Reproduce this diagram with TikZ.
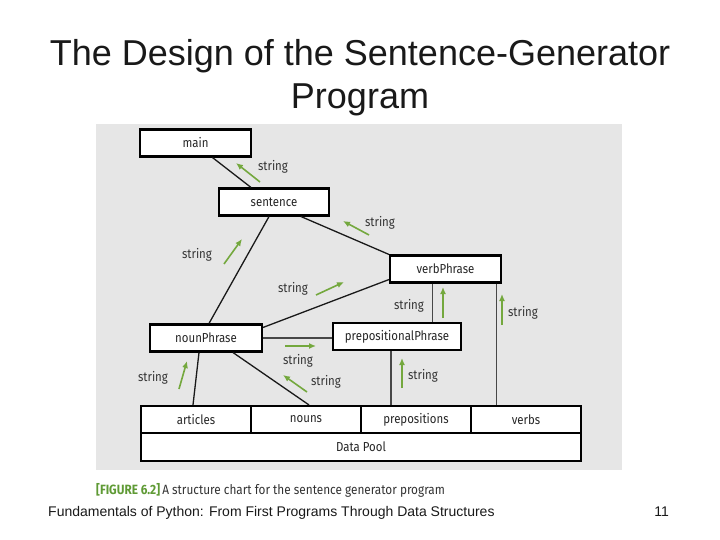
\documentclass[tikz,border=0pt]{standalone}
\usepackage{fontspec}
\setmainfont{Liberation Sans}
\newfontfamily\chartfont[FakeStretch=0.88]{Fira Sans}
\usetikzlibrary{positioning,arrows.meta}

\definecolor{figgray}{HTML}{E6E6E6}
\definecolor{flowgreen}{HTML}{74A83E}
\definecolor{capgreen}{HTML}{5F9A35}

\tikzset{
  module/.style={draw, line width=2.1pt, fill=white, minimum height=27pt, inner sep=0pt,
    font=\chartfont\fontsize{13}{15}\selectfont, text=black!85},
  link/.style={line width=1.3pt, black!90},
  straightlink/.style={line width=1.1pt, black!72},
  flow/.style={flowgreen, line width=1.6pt, -{Latex[length=7pt,width=6pt]}},
  lbl/.style={font=\chartfont\fontsize{13}{15}\selectfont, text=black!80},
}

\begin{document}
\begin{tikzpicture}[x=1pt, y=-1pt]

    \useasboundingbox (0,0) rectangle (720,540);

    % Title
    \node[anchor=base, font=\fontsize{36}{40}\selectfont, text=black!90] (title1) at (360,66) {The Design of the Sentence-Generator};
    \node[anchor=base, font=\fontsize{36}{40}\selectfont, text=black!90] (title2) at (360,109) {Program};

    % Figure background
    \fill[figgray] (96,124) rectangle (622,470);

    % Modules
    \node[module, minimum width=111pt] (main) at (195.5,143) {main};
    \node[module, minimum width=110pt] (sentence) at (274,202) {sentence};
    \node[module, minimum width=111pt] (verbPhrase) at (445.5,269) {verbPhrase};
    \node[module, minimum width=112pt] (nounPhrase) at (206,338) {nounPhrase};
    \node[module, minimum width=128pt] (prepositionalPhrase) at (397,336.5) {prepositionalPhrase};

    % Data pool
    \node[module, minimum width=110pt] (articles) at (196,419.5) {articles};
    \node[module, minimum width=110pt] (nouns) at (306,419.5) {nouns};
    \node[module, minimum width=110pt] (prepositions) at (416,419.5) {prepositions};
    \node[module, minimum width=110pt] (verbs) at (526,419.5) {verbs};
    \node[module, minimum width=440pt, minimum height=28pt] (pool) at (361,447) {Data Pool};

    % Links between modules
    \draw[link] ([xshift=17pt]main.south) -- ([xshift=-23pt]sentence.north);
    \draw[link] ([xshift=27pt]sentence.south) -- (verbPhrase.north west);
    \draw[link] ([xshift=-5pt]sentence.south) -- ([xshift=3pt]nounPhrase.north);
    \draw[link] ([yshift=-4pt]nounPhrase.north east) -- ([yshift=4pt]verbPhrase.south west);
    \draw[link] ([xshift=-7pt]nounPhrase.south) -- ([xshift=-3pt]articles.north);
    \draw[link] ([xshift=27pt]nounPhrase.south) -- ([xshift=3pt]nouns.north);
    \draw[straightlink] (nounPhrase.east) -- (nounPhrase.east -| prepositionalPhrase.west);
    \draw[straightlink] ([xshift=-13pt]verbPhrase.south) -- ([xshift=-13pt]verbPhrase.south |- prepositionalPhrase.north);
    \draw[straightlink] ([xshift=51pt]verbPhrase.south) -- ([xshift=51pt]verbPhrase.south |- verbs.north);
    \draw[straightlink] ([xshift=-6pt]prepositionalPhrase.south) -- ([xshift=-6pt]prepositionalPhrase.south |- prepositions.north);

    % Returned strings
    \draw[flow] (260,182) -- (236,163);
    \node[lbl] (s1) at (273,167) {string};
    \draw[flow] (369,235) -- (343,221);
    \node[lbl] (s2) at (380,223) {string};
    \draw[flow] (224,264) -- (242,239);
    \node[lbl] (s3) at (197,255) {string};
    \draw[flow] (316,295) -- (344,282);
    \node[lbl] (s4) at (293,289) {string};
    \draw[flow] (443,318) -- (443,287);
    \node[lbl] (s5) at (409,306) {string};
    \draw[flow] (502,325) -- (502,294);
    \node[lbl] (s6) at (523,313) {string};
    \draw[flow] (402,388) -- (402,358);
    \node[lbl] (s7) at (423,376) {string};
    \draw[flow] (285,346) -- (316,346);
    \node[lbl] (s8) at (298,361) {string};
    \draw[flow] (307,392) -- (283,375);
    \node[lbl] (s9) at (326,382) {string};
    \draw[flow] (179,389) -- (187,361);
    \node[lbl] (s10) at (153,378) {string};

    % Caption
    \node[anchor=base west, inner sep=0pt, font=\chartfont\fontsize{13.4}{15}\selectfont, text=black!80] (caption) at (96,494)
      {\textcolor{capgreen}{\bfseries[FIGURE 6.2]}\,A structure chart for the sentence generator program};

    % Footer
    \node[anchor=base west, inner sep=0pt, font=\fontsize{14}{16}\selectfont, text=black!90] (footer) at (48,516)
      {Fundamentals of Python: From First Programs Through Data Structures};
    \node[anchor=base east, inner sep=0pt, font=\fontsize{14}{16}\selectfont, text=black!90] (pagenum) at (669,516) {11};

\end{tikzpicture}
\end{document}
